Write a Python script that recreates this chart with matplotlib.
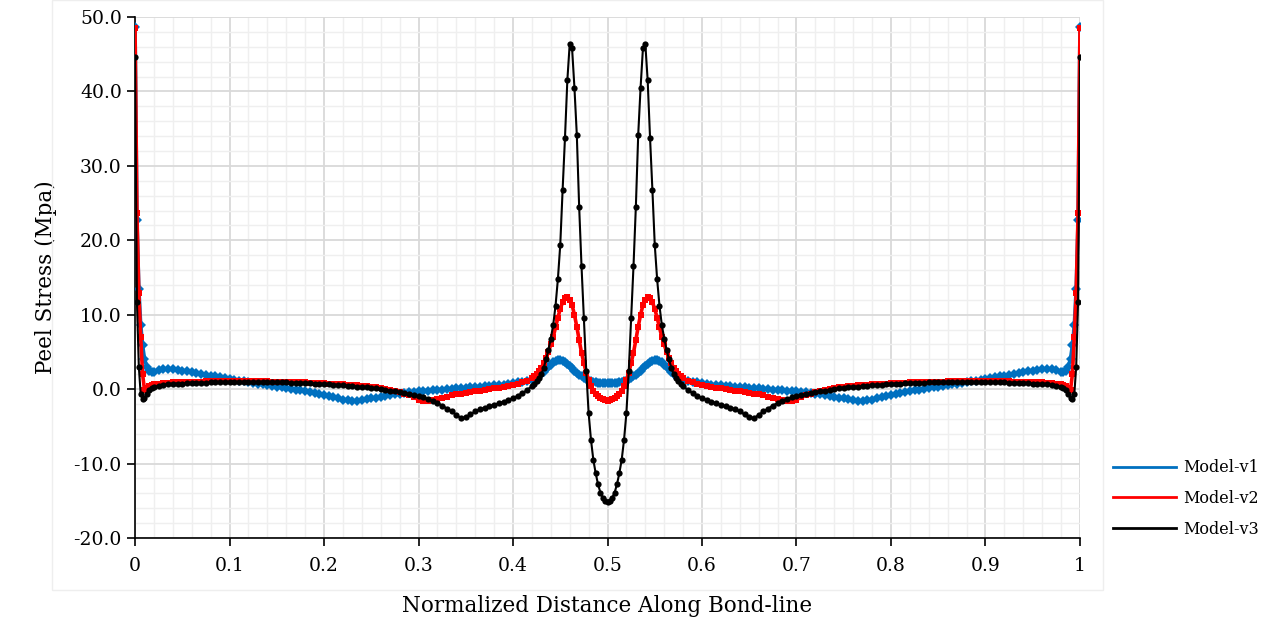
import numpy as np
import matplotlib
matplotlib.use("Agg")
from matplotlib import pyplot as plt
from matplotlib.lines import Line2D
from matplotlib.patches import Rectangle
from matplotlib.ticker import MultipleLocator

# sample positions along the bond-line (left half, 0 -> 0.5)
x_edge = [0, 0.002, 0.004, 0.006, 0.008, 0.010, 0.0125, 0.015, 0.0175, 0.020]
x_flat = list(np.round(np.arange(0.025, 0.4201, 0.005), 4))
x_peak = list(np.round(np.arange(0.4225, 0.50001, 0.0025), 4))
x_half = x_edge + x_flat + x_peak

# peel stress (MPa), left half; curves are symmetric about 0.5
v1_half = [48.7, 22.7, 13.5, 8.6, 5.9, 4.1, 3.0, 2.4, 2.3, 2.35,
           2.55, 2.7, 2.7, 2.65, 2.6, 2.5, 2.4, 2.3, 2.15, 2.0,
           1.9, 1.8, 1.7, 1.6, 1.45, 1.35, 1.25, 1.15, 1.05, 0.95,
           0.85, 0.75, 0.65, 0.55, 0.45, 0.35, 0.25, 0.15, 0.05, -0.05,
           -0.15, -0.3, -0.4, -0.55, -0.65, -0.8, -0.95, -1.1, -1.25, -1.4,
           -1.5, -1.6, -1.55, -1.45, -1.35, -1.25, -1.15, -1.05, -0.95, -0.85,
           -0.7, -0.6, -0.5, -0.4, -0.35, -0.3, -0.25, -0.2, -0.15, -0.1,
           -0.05, 0.0, 0.05, 0.1, 0.15, 0.2, 0.25, 0.3, 0.35, 0.4,
           0.45, 0.5, 0.55, 0.6, 0.7, 0.8, 0.9, 1.0, 1.1, 1.2,
           1.3, 1.5, 1.7, 2.0, 2.3, 2.7, 3.0, 3.3, 3.6, 3.8,
           3.9, 3.9, 3.8, 3.6, 3.4, 3.1, 2.8, 2.5, 2.2, 1.9,
           1.7, 1.5, 1.3, 1.15, 1.05, 0.95, 0.9, 0.85, 0.82, 0.8,
           0.8, 0.8]
v2_half = [48.5, 23.6, 12.9, 7.0, 2.0, -0.1, 0.2, 0.45, 0.6, 0.7,
           0.75, 0.8, 0.85, 0.9, 0.9, 0.95, 0.95, 1.0, 1.0, 1.0,
           1.05, 1.05, 1.05, 1.05, 1.1, 1.1, 1.1, 1.1, 1.1, 1.1,
           1.05, 1.05, 1.05, 1.05, 1.0, 1.0, 1.0, 1.0, 0.95, 0.95,
           0.9, 0.9, 0.85, 0.85, 0.8, 0.8, 0.75, 0.7, 0.7, 0.65,
           0.6, 0.55, 0.5, 0.45, 0.4, 0.35, 0.25, 0.15, 0.05, -0.1,
           -0.25, -0.4, -0.6, -0.85, -1.1, -1.4, -1.6, -1.55, -1.45, -1.3,
           -1.15, -1.0, -0.85, -0.7, -0.6, -0.5, -0.4, -0.3, -0.2, -0.1,
           0.0, 0.1, 0.2, 0.3, 0.4, 0.55, 0.7, 0.9, 1.15, 1.45,
           1.7, 2.0, 2.4, 2.9, 3.5, 4.2, 5.0, 6.0, 7.0, 8.3,
           9.6, 10.8, 11.7, 12.3, 12.4, 12.0, 11.3, 10.0, 8.4, 6.6,
           4.9, 3.5, 2.2, 1.2, 0.4, -0.2, -0.6, -0.9, -1.2, -1.35,
           -1.5, -1.55]
v3_half = [44.6, 11.7, 3.0, -0.7, -1.35, -1.2, -0.7, -0.1, 0.1, 0.25,
           0.45, 0.6, 0.65, 0.7, 0.75, 0.75, 0.8, 0.8, 0.85, 0.85,
           0.85, 0.9, 0.9, 0.9, 0.9, 0.9, 0.9, 0.9, 0.9, 0.9,
           0.9, 0.9, 0.9, 0.9, 0.9, 0.9, 0.9, 0.9, 0.85, 0.85,
           0.85, 0.8, 0.8, 0.75, 0.75, 0.7, 0.65, 0.6, 0.55, 0.5,
           0.45, 0.4, 0.35, 0.3, 0.25, 0.2, 0.1, 0.0, -0.1, -0.2,
           -0.3, -0.4, -0.5, -0.65, -0.8, -0.95, -1.1, -1.3, -1.55, -1.85,
           -2.2, -2.6, -3.0, -3.45, -3.9, -3.8, -3.4, -3.0, -2.7, -2.5,
           -2.3, -2.1, -1.9, -1.7, -1.45, -1.2, -0.9, -0.55, -0.1, 0.4,
           0.7, 1.05, 1.5, 2.0, 2.9, 4.0, 5.3, 6.8, 8.6, 11.2,
           14.8, 19.4, 26.8, 33.8, 41.5, 46.4, 45.8, 40.5, 34.2, 24.5,
           16.5, 9.5, 2.5, -3.2, -6.8, -9.5, -11.3, -12.8, -13.9, -14.6,
           -15.0, -15.2]

# full span 0 -> 1 (right half is the mirror image of the left half)
x = np.array(x_half + [round(1 - v, 4) for v in x_half[-2::-1]])
v1 = np.array(v1_half + v1_half[-2::-1])
v2 = np.array(v2_half + v2_half[-2::-1])
v3 = np.array(v3_half + v3_half[-2::-1])

names = ["Model-v1", "Model-v2", "Model-v3"]
colors = ["#0070C0", "#FF0000", "#000000"]
markers = ["D", "s", "o"]
msizes = [4.8, 4.4, 4.5]
lwidths = [2.6, 2.6, 1.5]

plt.rcParams["font.family"] = ["DejaVu Serif"]

fig = plt.figure(figsize=(12.74, 6.34), dpi=100)
ax = fig.add_axes([0.106, 0.1514, 0.7417, 0.8218])

# faint chart-area border
fig.patches.append(Rectangle((0.041, 0.07), 0.825, 0.93, transform=fig.transFigure,
                             fill=False, edgecolor="#eeeeee", linewidth=1))

for vals, name, c, m, ms, lw in zip([v1, v2, v3], names, colors, markers, msizes, lwidths):
    ax.plot(x, vals, color=c, lw=lw, marker=m, markersize=ms,
            markeredgewidth=0, label=name, zorder=3)

ax.set_xlim(0, 1)
ax.set_ylim(-20, 50)
ax.xaxis.set_minor_locator(MultipleLocator(0.02))
ax.yaxis.set_minor_locator(MultipleLocator(2))

xt = [0, 0.1, 0.2, 0.3, 0.4, 0.5, 0.6, 0.7, 0.8, 0.9, 1]
ax.set_xticks(xt)
ax.set_xticklabels(["0", "0.1", "0.2", "0.3", "0.4", "0.5", "0.6", "0.7", "0.8", "0.9", "1"])
yt = [-20, -10, 0, 10, 20, 30, 40, 50]
ax.set_yticks(yt)
ax.set_yticklabels(["%.1f" % v for v in yt])

ax.grid(which="major", color="#d9d9d9", lw=1.3, zorder=0)
ax.grid(which="minor", color="#efefef", lw=1.0, zorder=0)
ax.set_axisbelow(True)

for s in ["top", "right"]:
    ax.spines[s].set_visible(False)
ax.spines["left"].set_color("black")
ax.spines["bottom"].set_color("black")
ax.spines["left"].set_linewidth(1.2)
ax.spines["bottom"].set_linewidth(1.2)
ax.tick_params(which="major", direction="out", length=6, width=1.2, labelsize=13.5,
               colors="black")
ax.tick_params(axis="x", pad=8)
ax.tick_params(which="minor", length=0)

ax.set_xlabel("Normalized Distance Along Bond-line", fontsize=15.5, labelpad=14)
ax.set_ylabel("Peel Stress (Mpa)", fontsize=15.5, labelpad=12)

handles = [Line2D([], [], color=c, lw=2) for c in colors]
fig.legend(handles, names, loc="upper left", bbox_to_anchor=(0.862, 0.298),
           frameon=False, fontsize=11.5, handlelength=4.0, labelspacing=0.85,
           handletextpad=0.45)

fig.savefig("out.png", dpi=100)
